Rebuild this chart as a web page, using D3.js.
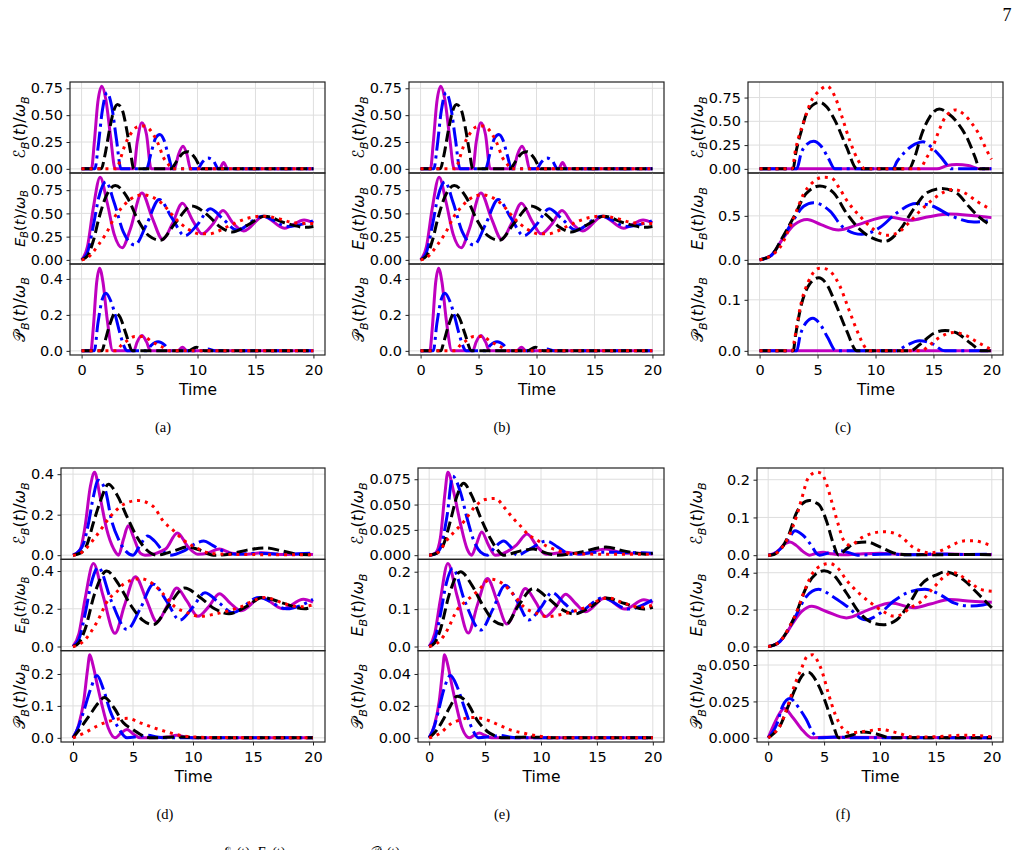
<!DOCTYPE html>
<html>
<head>
<meta charset="utf-8">
<script src="https://cdn.jsdelivr.net/npm/d3@7"></script>
<style>
  body { margin: 0; background: #fff; }
  text { font-family: 'DejaVu Sans', sans-serif; }
</style>
</head>
<body>
<script>
// ---- data: [time, value] pairs ----
// every subplot holds 4 series in the order red, black, blue, magenta
const timeTicks = [0, 5, 10, 15, 20];

// panel (a) — panel (b) shows the same curves
const ergA = [
  [[0,0],[3.0,0],[3.4,0.11],[3.7,0.21],[4.2,0.32],[4.7,0.385],[5.3,0.40],[5.8,0.375],[6.3,0.30],[6.7,0.21],[7.0,0.12],[7.5,0.04],[7.8,0],[20,0]],
  [[0,0],[1.7,0],[2.0,0.12],[2.4,0.36],[2.8,0.55],[3.1,0.60],[3.5,0.55],[3.9,0.36],[4.2,0.17],[4.5,0],[7.7,0],[8.2,0.07],[8.8,0.15],[9.2,0.16],[9.8,0.10],[10.4,0],[20,0]],
  [[0,0],[1.15,0],[1.4,0.18],[1.8,0.55],[2.2,0.71],[2.6,0.58],[3.0,0.28],[3.4,0],[5.6,0],[6.0,0.15],[6.4,0.29],[6.75,0.32],[7.1,0.27],[7.5,0.12],[7.85,0],[10.0,0],[10.4,0.06],[10.9,0.10],[11.4,0.07],[11.8,0],[20,0]],
  [[0,0],[0.85,0],[1.1,0.25],[1.4,0.62],[1.75,0.77],[2.1,0.64],[2.5,0.30],[2.9,0],[4.5,0],[4.8,0.25],[5.2,0.43],[5.6,0.32],[6.0,0],[8.0,0],[8.35,0.13],[8.75,0.21],[9.1,0.13],[9.4,0],[11.9,0],[12.25,0.06],[12.6,0],[20,0]]
];
const eneA = [
  [[0,0],[0.5,0.02],[0.9,0.07],[1.5,0.17],[2.1,0.28],[2.9,0.47],[3.6,0.58],[4.3,0.66],[5.3,0.70],[6.2,0.67],[7.0,0.60],[8.2,0.43],[9.2,0.33],[10.2,0.28],[11.0,0.28],[11.8,0.31],[12.8,0.37],[14.4,0.45],[15.6,0.47],[16.8,0.45],[18.3,0.40],[20,0.39]],
  [[0,0],[0.5,0.04],[1.0,0.2],[1.5,0.45],[2.1,0.68],[2.9,0.80],[3.9,0.68],[4.9,0.42],[5.8,0.26],[6.8,0.21],[8.1,0.40],[9.5,0.58],[10.8,0.49],[11.9,0.36],[13.0,0.30],[14.4,0.38],[15.8,0.47],[17.5,0.40],[19.3,0.35],[20,0.36]],
  [[0,0],[0.5,0.08],[1.0,0.36],[1.5,0.68],[2.1,0.84],[2.8,0.62],[3.6,0.30],[4.6,0.16],[5.6,0.38],[6.7,0.65],[7.8,0.45],[8.9,0.26],[10.0,0.38],[11.1,0.55],[12.2,0.44],[13.4,0.32],[15.6,0.47],[17.8,0.36],[20,0.42]],
  [[0,0],[0.5,0.14],[1.0,0.55],[1.6,0.89],[2.2,0.62],[2.8,0.28],[3.5,0.13],[4.2,0.33],[5.2,0.72],[6.1,0.45],[7.0,0.22],[7.8,0.38],[8.7,0.61],[9.6,0.42],[10.4,0.28],[11.3,0.38],[12.2,0.53],[13.1,0.39],[14.0,0.31],[15.7,0.47],[17.5,0.34],[19.2,0.43],[20,0.40]]
];
const powA = [
  [[0,0],[3.0,0],[3.4,0.03],[3.8,0.05],[4.6,0.08],[5.3,0.08],[6.1,0.05],[7.0,0.02],[7.6,0],[20,0]],
  [[0,0],[1.75,0],[2.0,0.05],[2.4,0.14],[2.9,0.21],[3.3,0.19],[3.8,0.10],[4.4,0],[9.2,0],[9.9,0.02],[10.6,0],[20,0]],
  [[0,0],[1.1,0],[1.4,0.15],[1.8,0.29],[2.1,0.32],[2.5,0.28],[2.9,0.2],[3.3,0.1],[3.7,0.02],[3.9,0],[5.6,0],[6.0,0.03],[6.6,0.05],[7.2,0.03],[7.6,0],[10.3,0],[10.9,0.01],[11.5,0],[20,0]],
  [[0,0],[0.8,0],[1.0,0.12],[1.3,0.38],[1.55,0.46],[1.85,0.38],[2.2,0.18],[2.7,0],[4.5,0],[4.8,0.05],[5.2,0.085],[5.6,0.05],[5.95,0],[8.3,0],[8.7,0.02],[9.1,0],[20,0]]
];

// panel (c)
const ergC = [
  [[0,0],[2.8,0],[3.1,0.2],[3.85,0.51],[4.4,0.70],[5.15,0.82],[5.8,0.87],[6.5,0.76],[7.1,0.55],[7.8,0.29],[8.5,0.09],[9.1,0],[13.8,0],[14.4,0.115],[14.9,0.22],[15.6,0.44],[16.0,0.54],[16.9,0.62],[17.7,0.565],[18.3,0.48],[18.9,0.37],[19.3,0.27],[19.7,0.17],[20,0.10]],
  [[0,0],[2.9,0],[3.1,0.15],[3.6,0.40],[4.2,0.62],[5.2,0.70],[5.8,0.65],[6.5,0.51],[7.5,0.23],[8.4,0],[12.9,0],[13.3,0.094],[14.0,0.37],[14.7,0.55],[15.5,0.63],[16.2,0.59],[17.1,0.48],[18.0,0.30],[18.6,0.12],[19.0,0],[20,0]],
  [[0,0],[3.2,0],[3.6,0.17],[4.1,0.26],[4.65,0.29],[5.3,0.24],[5.9,0.12],[6.5,0],[11.5,0],[11.85,0.076],[12.56,0.18],[13.4,0.26],[14.1,0.285],[14.9,0.22],[15.6,0.13],[16.3,0.024],[16.5,0],[20,0]],
  [[0,0],[15.3,0],[16.2,0.035],[17.0,0.045],[18.0,0.035],[19.0,0],[20,0]]
];
const eneC = [
  [[0,0],[1.0,0.05],[1.8,0.15],[2.6,0.37],[3.2,0.56],[3.8,0.75],[4.5,0.87],[5.5,0.94],[6.2,0.93],[6.9,0.81],[7.5,0.68],[8.7,0.49],[9.9,0.34],[11.0,0.28],[11.8,0.30],[12.8,0.41],[13.8,0.55],[14.8,0.67],[15.9,0.77],[16.7,0.80],[17.7,0.76],[18.8,0.66],[20,0.57]],
  [[0,0],[1.0,0.05],[2.0,0.26],[3.0,0.5],[4.0,0.75],[5.2,0.84],[6.4,0.76],[7.5,0.53],[8.7,0.34],[9.7,0.25],[10.8,0.21],[12.1,0.34],[13.3,0.58],[14.4,0.76],[15.7,0.81],[17.0,0.76],[18.1,0.60],[19.0,0.48],[20,0.39]],
  [[0,0],[1.0,0.05],[2.0,0.25],[3.0,0.47],[3.8,0.61],[4.65,0.65],[6.1,0.55],[7.2,0.37],[8.8,0.29],[10.4,0.37],[11.8,0.53],[13.5,0.64],[14.7,0.62],[16.7,0.49],[18.5,0.43],[20,0.45]],
  [[0,0],[1.0,0.05],[2.0,0.24],[3.0,0.40],[4.1,0.46],[5.3,0.40],[6.8,0.34],[8.5,0.40],[11.0,0.49],[13.0,0.45],[14.6,0.49],[16.4,0.52],[18.5,0.50],[20,0.48]]
];
const powC = [
  [[0,0],[2.8,0],[3.0,0.02],[3.2,0.047],[3.6,0.095],[4.2,0.135],[5.2,0.162],[5.8,0.16],[6.9,0.128],[7.7,0.081],[8.4,0.04],[9.2,0.004],[9.5,0],[14.0,0],[14.5,0.008],[15.5,0.026],[16.8,0.036],[17.8,0.03],[18.8,0.017],[19.9,0.004],[20,0.003]],
  [[0,0],[2.9,0],[3.1,0.03],[3.6,0.09],[4.3,0.13],[5.1,0.143],[5.8,0.13],[6.6,0.09],[7.5,0.04],[8.4,0],[13.0,0],[13.8,0.012],[15.0,0.034],[16.0,0.04],[17.0,0.035],[18.2,0.015],[19.2,0],[20,0]],
  [[0,0],[3.2,0],[3.5,0.03],[4.0,0.055],[4.6,0.064],[5.2,0.053],[5.9,0.025],[6.6,0],[11.8,0],[12.6,0.01],[13.8,0.02],[14.8,0.015],[16.0,0],[20,0]],
  [[0,0],[20,0]]
];

// panel (d)
const ergD = [
  [[0,0],[0.5,0.005],[1.0,0.028],[2.0,0.10],[3.1,0.19],[4.2,0.25],[5.4,0.27],[6.7,0.24],[7.5,0.17],[8.4,0.12],[9.3,0.07],[10.3,0.036],[11.4,0.01],[13,0.004],[15,0.003],[17,0.002],[20,0.002]],
  [[0,0],[0.6,0.01],[1.15,0.05],[1.7,0.16],[2.3,0.27],[2.95,0.35],[3.65,0.30],[4.5,0.19],[5.3,0.093],[6.1,0.028],[7.0,0],[7.8,0.01],[8.6,0.025],[9.5,0.041],[10.6,0.025],[11.7,0],[13.0,0.005],[14.5,0.025],[16.0,0.036],[17.5,0.02],[18.9,0.003],[20,0.002]],
  [[0,0],[0.5,0.02],[0.9,0.06],[1.3,0.16],[1.7,0.29],[2.1,0.37],[2.7,0.32],[3.2,0.175],[3.8,0.077],[4.4,0.02],[5.0,0],[5.6,0.05],[6.2,0.095],[6.8,0.07],[7.5,0.02],[8.1,0],[9.2,0.02],[10.3,0.06],[10.9,0.07],[11.6,0.05],[12.5,0.02],[13.5,0.005],[15.5,0.01],[17.5,0.005],[20,0.01]],
  [[0,0],[0.6,0.028],[1.0,0.14],[1.45,0.34],[1.8,0.41],[2.25,0.29],[2.8,0.13],[3.4,0.03],[3.8,0],[4.2,0.077],[4.6,0.145],[5.1,0.08],[5.6,0.01],[6.0,0],[7.7,0.03],[8.7,0.11],[9.6,0.04],[10.4,0.005],[11.2,0.01],[12.2,0.03],[13.2,0.01],[14.5,0.005],[15.7,0.012],[17.5,0.003],[19.2,0.006],[20,0.003]]
];
const eneD = [
  [[0,0],[0.5,0.01],[1.0,0.036],[2.0,0.13],[2.96,0.25],[3.65,0.29],[4.2,0.33],[5.6,0.36],[6.7,0.33],[7.5,0.28],[8.5,0.21],[9.5,0.18],[10.6,0.16],[11.7,0.17],[13.0,0.19],[14.0,0.21],[15.3,0.25],[16.0,0.26],[17.5,0.23],[18.9,0.21],[20,0.22]],
  [[0,0],[0.5,0.02],[1.0,0.09],[1.8,0.28],[2.8,0.40],[3.8,0.33],[4.8,0.22],[5.8,0.14],[6.7,0.116],[8.0,0.22],[9.3,0.31],[10.6,0.26],[11.8,0.20],[13.0,0.174],[14.4,0.21],[15.8,0.26],[17.5,0.23],[19.3,0.20],[20,0.21]],
  [[0,0],[0.5,0.04],[1.0,0.17],[1.5,0.33],[2.1,0.42],[3.2,0.24],[4.5,0.09],[5.6,0.20],[6.7,0.33],[7.8,0.24],[8.9,0.14],[10.0,0.21],[11.0,0.285],[12.2,0.23],[13.3,0.18],[15.5,0.26],[17.8,0.20],[20,0.25]],
  [[0,0],[0.5,0.07],[1.0,0.25],[1.7,0.44],[2.5,0.27],[3.5,0.07],[4.3,0.22],[5.2,0.37],[6.1,0.25],[7.0,0.13],[7.8,0.21],[8.65,0.31],[9.5,0.24],[10.4,0.16],[11.3,0.21],[12.2,0.28],[13.1,0.23],[14.0,0.19],[15.7,0.26],[17.5,0.20],[19.2,0.25],[20,0.235]]
];
const powD = [
  [[0,0],[1.0,0.016],[2.0,0.037],[3.0,0.052],[4.0,0.06],[4.6,0.061],[5.6,0.047],[6.7,0.032],[7.8,0.019],[8.9,0.008],[10.0,0.003],[11.5,0.001],[20,0]],
  [[0,0],[0.75,0.037],[1.44,0.074],[2.13,0.11],[2.6,0.126],[3.4,0.095],[4.2,0.047],[5.0,0.026],[5.9,0.005],[6.6,0],[9.0,0.003],[11,0],[20,0]],
  [[0,0],[0.4,0.03],[0.9,0.084],[1.44,0.15],[2.0,0.195],[2.55,0.15],[3.1,0.084],[3.8,0.03],[4.5,0],[5.4,0.004],[6.2,0.008],[7.0,0.003],[8.0,0],[20,0]],
  [[0,0],[0.47,0.04],[0.9,0.116],[1.2,0.21],[1.4,0.26],[1.65,0.23],[2.0,0.17],[2.4,0.105],[2.95,0.03],[3.5,0],[4.0,0.015],[4.5,0.026],[5.0,0.013],[5.6,0],[8.0,0.003],[8.6,0.008],[9.4,0.003],[10.5,0],[20,0]]
];

// panel (e)
const ergE = [
  [[0,0],[0.5,0.001],[1.04,0.0057],[1.52,0.014],[2.33,0.024],[3.16,0.034],[4.1,0.048],[5.0,0.055],[5.9,0.056],[6.8,0.046],[7.46,0.037],[8.15,0.029],[8.9,0.020],[9.64,0.015],[10.5,0.009],[11.4,0.005],[12.5,0.002],[15,0.001],[20,0.001]],
  [[0,0],[0.7,0.002],[1.3,0.011],[1.9,0.034],[2.5,0.059],[3.07,0.071],[3.8,0.059],[4.6,0.037],[5.5,0.016],[6.2,0.004],[6.65,0],[8.1,0.004],[9.3,0.006],[10.5,0.002],[11.5,0],[13.5,0.003],[15.8,0.008],[17.5,0.004],[19.5,0.001],[20,0.002]],
  [[0,0],[0.5,0.001],[1.0,0.007],[1.6,0.039],[2.1,0.078],[2.8,0.062],[3.4,0.036],[4.0,0.014],[4.6,0.003],[5.2,0],[5.9,0.008],[6.65,0.014],[7.3,0.008],[7.85,0],[9.0,0.006],[10.5,0.014],[11.5,0.008],[12.6,0.001],[15.5,0.003],[20,0.002]],
  [[0,0],[0.55,0.002],[1.0,0.017],[1.4,0.06],[1.67,0.082],[2.2,0.062],[2.8,0.031],[3.4,0.006],[3.8,0],[4.2,0.01],[4.7,0.023],[5.3,0.01],[5.9,0],[7.8,0.01],[8.75,0.021],[9.7,0.008],[10.5,0.001],[12.2,0.003],[13.5,0.001],[15.8,0.006],[17.5,0.002],[19.3,0.002],[20,0.001]]
];
const eneE = [
  [[0,0],[0.5,0.005],[1.04,0.018],[1.6,0.043],[2.5,0.098],[3.4,0.124],[4.3,0.147],[5.5,0.18],[6.7,0.165],[7.5,0.14],[8.5,0.105],[9.5,0.09],[10.6,0.08],[11.7,0.085],[13.0,0.095],[14.0,0.105],[15.3,0.125],[16.0,0.13],[17.5,0.115],[18.9,0.105],[20,0.11]],
  [[0,0],[0.5,0.01],[1.0,0.045],[1.8,0.14],[2.8,0.20],[3.8,0.165],[4.8,0.11],[5.8,0.068],[6.8,0.057],[8.0,0.11],[9.3,0.155],[10.6,0.13],[11.8,0.10],[13.0,0.087],[14.4,0.105],[15.8,0.13],[17.5,0.115],[19.2,0.10],[20,0.105]],
  [[0,0],[0.5,0.02],[1.0,0.085],[1.5,0.165],[2.1,0.209],[3.2,0.12],[4.6,0.044],[5.7,0.10],[6.8,0.164],[7.9,0.12],[8.9,0.071],[10.0,0.105],[11.0,0.144],[12.1,0.115],[13.2,0.09],[15.5,0.13],[17.8,0.10],[20,0.125]],
  [[0,0],[0.5,0.035],[1.0,0.125],[1.67,0.222],[2.5,0.135],[3.5,0.036],[4.3,0.11],[5.2,0.182],[6.1,0.12],[6.95,0.06],[7.8,0.105],[8.6,0.155],[9.5,0.12],[10.4,0.08],[11.3,0.105],[12.2,0.14],[13.1,0.115],[14.0,0.093],[15.7,0.13],[17.5,0.10],[19.2,0.125],[20,0.117]]
];
const powE = [
  [[0,0],[1.0,0.003],[1.9,0.0086],[2.9,0.0115],[3.8,0.0128],[4.9,0.0118],[6.06,0.0086],[7.25,0.005],[8.4,0.003],[9.9,0.001],[11.5,0],[20,0]],
  [[0,0],[0.7,0.005],[1.3,0.012],[1.9,0.02],[2.5,0.026],[3.4,0.022],[4.3,0.011],[5.2,0.004],[6.0,0.001],[6.6,0],[9.0,0.0006],[11,0],[20,0]],
  [[0,0],[0.4,0.006],[0.8,0.016],[1.3,0.03],[1.9,0.039],[2.5,0.032],[3.1,0.02],[3.8,0.0064],[4.4,0],[5.5,0.0008],[6.3,0.0015],[7.2,0.0005],[8,0],[20,0]],
  [[0,0],[0.47,0.008],[0.9,0.023],[1.2,0.042],[1.37,0.052],[1.65,0.046],[2.0,0.034],[2.4,0.021],[2.95,0.006],[3.6,0],[4.0,0.0015],[4.5,0.003],[5.0,0.0015],[5.6,0],[20,0]]
];

// panel (f)
const ergF = [
  [[0,0],[0.5,0.002],[1.04,0.0135],[1.8,0.047],[2.5,0.10],[3.0,0.15],[3.5,0.20],[3.9,0.215],[4.3,0.22],[4.8,0.216],[5.2,0.19],[5.7,0.14],[6.3,0.078],[6.7,0.042],[7.3,0.026],[8.4,0.047],[9.3,0.058],[10.3,0.062],[11.0,0.06],[11.8,0.051],[13.0,0.02],[14.5,0.006],[15.7,0.015],[16.6,0.029],[17.6,0.038],[18.4,0.038],[19.6,0.029],[20,0.025]],
  [[0,0],[0.5,0.002],[1.04,0.013],[1.8,0.051],[2.5,0.11],[3.0,0.135],[3.7,0.145],[4.2,0.14],[4.6,0.132],[5.2,0.092],[5.8,0.033],[6.3,0],[7.0,0.017],[7.9,0.033],[8.8,0.035],[10.0,0.022],[11.2,0.006],[12.5,0.001],[15.0,0.001],[17.0,0.002],[20,0.001]],
  [[0,0],[0.5,0.003],[1.04,0.015],[1.8,0.042],[2.4,0.065],[3.1,0.053],[3.9,0.024],[4.3,0.005],[4.6,0],[5.4,0.006],[6.4,0.012],[7.3,0.006],[8.0,0],[9.5,0.002],[11,0.003],[12.5,0.001],[15,0.003],[17,0.002],[20,0.003]],
  [[0,0],[0.5,0.004],[1.0,0.015],[1.5,0.03],[1.95,0.035],[2.5,0.026],[3.1,0.01],[3.7,0],[4.3,0.005],[4.9,0.008],[5.6,0.004],[6.5,0.001],[8.0,0.003],[10.0,0.005],[12,0.002],[14,0.002],[16,0.003],[18,0.002],[20,0.002]]
];
const eneF = [
  [[0,0],[0.5,0.007],[1.04,0.027],[1.8,0.095],[2.5,0.18],[3.3,0.31],[4.0,0.40],[4.8,0.44],[5.5,0.45],[6.3,0.42],[7.0,0.36],[8.1,0.29],[9.1,0.24],[10.3,0.19],[11.2,0.165],[11.8,0.17],[12.7,0.21],[13.6,0.24],[14.8,0.32],[16.0,0.39],[16.6,0.40],[17.8,0.36],[19.0,0.31],[20,0.30]],
  [[0,0],[0.5,0.007],[1.04,0.027],[1.8,0.095],[2.5,0.18],[3.4,0.32],[4.2,0.39],[5.0,0.41],[5.8,0.39],[7.0,0.29],[8.2,0.18],[9.4,0.127],[10.3,0.118],[11.5,0.145],[12.7,0.24],[13.6,0.33],[15.1,0.39],[15.8,0.405],[17.5,0.36],[18.7,0.29],[20,0.21]],
  [[0,0],[0.5,0.007],[1.04,0.027],[1.8,0.09],[2.5,0.17],[3.4,0.27],[4.5,0.31],[5.8,0.27],[7.0,0.22],[8.7,0.145],[10.0,0.18],[11.2,0.245],[12.4,0.29],[14.0,0.31],[15.4,0.28],[16.6,0.236],[18.0,0.22],[19.2,0.225],[20,0.235]],
  [[0,0],[0.5,0.007],[1.04,0.027],[1.6,0.07],[2.2,0.127],[3.0,0.19],[3.9,0.218],[5.2,0.19],[7.0,0.155],[9.0,0.2],[11.0,0.236],[13.0,0.21],[14.5,0.23],[16.2,0.255],[18.2,0.245],[20,0.24]]
];
const powF = [
  [[0,0],[0.5,0.003],[1.04,0.008],[1.8,0.023],[2.4,0.037],[3.0,0.048],[3.5,0.056],[4.0,0.057],[4.4,0.053],[4.8,0.046],[5.4,0.03],[6.0,0.016],[6.6,0.007],[7.3,0.0035],[8.8,0.0046],[10.0,0.0058],[11.5,0.0035],[13.0,0.0005],[15,0.0008],[17.5,0.0018],[20,0.0008]],
  [[0,0],[0.5,0.003],[1.04,0.008],[1.8,0.022],[2.5,0.035],[3.2,0.044],[3.6,0.045],[4.3,0.039],[5.1,0.025],[5.8,0.009],[6.3,0],[7.5,0.002],[8.5,0.004],[9.5,0.003],[11,0],[20,0]],
  [[0,0],[0.4,0.004],[0.75,0.009],[1.3,0.022],[1.94,0.027],[2.7,0.021],[3.4,0.0127],[4.0,0.0035],[4.5,0],[6,0.0005],[8,0],[20,0]],
  [[0,0],[0.45,0.008],[1.04,0.017],[1.43,0.0203],[2.2,0.014],[3.1,0.005],[3.9,0],[5,0.0004],[20,0]]
];

// y tick labels per subplot (ergotropy, energy, power)
const ticksA = [["0.00","0.25","0.50","0.75"], ["0.00","0.25","0.50","0.75"], ["0.0","0.2","0.4"]];
const ticksC = [["0.00","0.25","0.50","0.75"], ["0.0","0.5"], ["0.0","0.1"]];
const ticksD = [["0.0","0.2","0.4"], ["0.0","0.2","0.4"], ["0.0","0.1","0.2"]];
const ticksE = [["0.000","0.025","0.050","0.075"], ["0.0","0.1","0.2"], ["0.00","0.02","0.04"]];
const ticksF = [["0.0","0.1","0.2"], ["0.0","0.2","0.4"], ["0.000","0.025","0.050"]];

// ---- styles & layout ----
const lw = 3;
const seriesStyle = [
  {color: '#ff0000', dash: `${lw*1},${lw*1.65}`},
  {color: '#000000', dash: `${lw*3.7},${lw*1.6}`},
  {color: '#0000ff', dash: `${lw*6.4},${lw*1.6},${lw*1},${lw*1.6}`},
  {color: '#bf00bf', dash: null}
];
const drawOrder = [3, 2, 1, 0]; // magenta underneath, red on top

const panels = [
  {tag: '(a)', data: [ergA, eneA, powA], ticks: ticksA, left: 70,  right: 325,  top: 82,  bottom: 355, capX: 163, labelSizes: [16, 14.5, 16]},
  {tag: '(b)', data: [ergA, eneA, powA], ticks: ticksA, left: 409, right: 664,  top: 82,  bottom: 355, capX: 502, labelSizes: [16, 16, 16]},
  {tag: '(c)', data: [ergC, eneC, powC], ticks: ticksC, left: 748, right: 1003, top: 82,  bottom: 355, capX: 843, labelSizes: [16, 16, 16]},
  {tag: '(d)', data: [ergD, eneD, powD], ticks: ticksD, left: 61,  right: 325,  top: 468, bottom: 742, capX: 165, labelSizes: [16, 14.5, 16]},
  {tag: '(e)', data: [ergE, eneE, powE], ticks: ticksE, left: 418, right: 664,  top: 468, bottom: 742, capX: 502, labelSizes: [16, 16, 16]},
  {tag: '(f)', data: [ergF, eneF, powF], ticks: ticksF, left: 757, right: 1003, top: 468, bottom: 742, capX: 843, labelSizes: [16, 16, 16]}
];
const labelSymbols = ['ℰ', 'E', '𝒫'];

const tickFont = 14.5;
const gridColor = '#dedede';
const spineColor = '#222';

const svg = d3.select('body').append('svg')
  .attr('width', 1019)
  .attr('height', 850);

// page number
svg.append('text')
  .attr('x', 1007).attr('y', 21)
  .attr('text-anchor', 'middle')
  .style('font-family', "'Liberation Serif', serif")
  .attr('font-size', 18)
  .text('7');

function yLabel(g, cx, cy, sym, size) {
  const t = g.append('text')
    .attr('transform', `translate(${cx},${cy}) rotate(-90)`)
    .attr('text-anchor', 'middle')
    .attr('font-size', size);
  t.append('tspan').text(sym).attr('font-style', sym === 'E' ? 'italic' : 'normal');
  t.append('tspan').text('B').attr('font-style', 'italic').attr('font-size', size * 0.7).attr('dy', size * 0.25);
  t.append('tspan').text('(').attr('dy', -size * 0.25);
  t.append('tspan').text('t').attr('font-style', 'italic');
  t.append('tspan').text(')/');
  t.append('tspan').text('ω').attr('font-style', 'italic');
  t.append('tspan').text('B').attr('font-style', 'italic').attr('font-size', size * 0.7).attr('dy', size * 0.25);
}

panels.forEach((p, pi) => {
  const g = svg.append('g');
  const x = d3.scaleLinear().domain([-1, 21]).range([p.left, p.right]);
  const h = (p.bottom - p.top) / 3;
  let minLabelX = Infinity;

  p.data.forEach((subset, si) => {
    const y0 = p.top + si * h, y1 = y0 + h;
    const vals = subset.flat().map(d => d[1]);
    const lo = d3.min(vals), hi = d3.max(vals), pad = (hi - lo) * 0.05;
    const y = d3.scaleLinear().domain([lo - pad, hi + pad]).range([y1, y0]);
    const tickVals = p.ticks[si].map(Number);

    const sub = g.append('g');
    const clipId = `clip-${pi}-${si}`;
    sub.append('clipPath').attr('id', clipId)
      .append('rect').attr('x', p.left).attr('y', y0).attr('width', p.right - p.left).attr('height', h);

    // grid
    sub.append('g').selectAll('line.vx').data(timeTicks).join('line')
      .attr('x1', d => x(d)).attr('x2', d => x(d))
      .attr('y1', y0).attr('y2', y1)
      .attr('stroke', gridColor).attr('stroke-width', 1);
    sub.append('g').selectAll('line.hy').data(tickVals).join('line')
      .attr('x1', p.left).attr('x2', p.right)
      .attr('y1', d => y(d)).attr('y2', d => y(d))
      .attr('stroke', gridColor).attr('stroke-width', 1);

    // curves
    const line = d3.line()
      .x(d => x(d[0]))
      .y(d => y(d[1]))
      .curve(d3.curveMonotoneX);
    const lines = sub.append('g').attr('clip-path', `url(#${clipId})`);
    drawOrder.forEach(k => {
      lines.append('path')
        .attr('d', line(subset[k]))
        .attr('fill', 'none')
        .attr('stroke', seriesStyle[k].color)
        .attr('stroke-width', lw)
        .attr('stroke-dasharray', seriesStyle[k].dash)
        .attr('stroke-linejoin', 'round');
    });

    // frame
    sub.append('rect')
      .attr('x', p.left).attr('y', y0)
      .attr('width', p.right - p.left).attr('height', h)
      .attr('fill', 'none').attr('stroke', spineColor).attr('stroke-width', 1.2);

    // y axis
    const ya = sub.append('g').attr('transform', `translate(${p.left},0)`)
      .call(d3.axisLeft(y).tickValues(tickVals).tickFormat((d, i) => p.ticks[si][i])
        .tickSize(3.5).tickPadding(3.5));
    ya.select('.domain').remove();
    ya.selectAll('line').attr('stroke', spineColor);
    ya.selectAll('text').attr('font-size', tickFont).attr('fill', '#000')
      .style('font-family', "'DejaVu Sans', sans-serif");
    ya.selectAll('text').each(function() {
      const b = this.getBBox();
      const m = this.getCTM();
      minLabelX = Math.min(minLabelX, b.x + m.e);
    });

    // x axis on the lowest subplot only
    if (si === 2) {
      const xa = sub.append('g').attr('transform', `translate(0,${y1})`)
        .call(d3.axisBottom(x).tickValues(timeTicks).tickSize(3.5).tickPadding(6));
      xa.select('.domain').remove();
      xa.selectAll('line').attr('stroke', spineColor);
      xa.selectAll('text').attr('font-size', tickFont).attr('fill', '#000')
        .style('font-family', "'DejaVu Sans', sans-serif");
    }
  });

  // y labels, aligned per panel
  p.data.forEach((subset, si) => {
    const cy = p.top + si * h + h / 2;
    yLabel(g, minLabelX - 6, cy, labelSymbols[si], p.labelSizes[si]);
  });

  // x label
  g.append('text')
    .attr('x', (p.left + p.right) / 2 + 0.5)
    .attr('y', p.bottom + 40)
    .attr('text-anchor', 'middle')
    .attr('font-size', 15.5)
    .text('Time');

  // caption
  g.append('text')
    .attr('x', p.capX)
    .attr('y', p.bottom + 77)
    .attr('text-anchor', 'middle')
    .style('font-family', "'Liberation Serif', serif")
    .attr('font-size', 14.5)
    .text(p.tag);
});

// caption line that the page edge cuts off
const cap = svg.append('text')
  .attr('x', 222).attr('y', 857)
  .style('font-family', "'Liberation Serif', serif")
  .attr('font-size', 14);
cap.append('tspan').text('ℰ');
cap.append('tspan').text('B').attr('font-size', 10).attr('dy', 3);
cap.append('tspan').text('(t),  ').attr('dy', -3);
cap.append('tspan').text('E').attr('font-style', 'italic');
cap.append('tspan').text('B').attr('font-size', 10).attr('dy', 3);
cap.append('tspan').text('(t)').attr('dy', -3);
cap.append('tspan').text('𝒫').attr('x', 370);
cap.append('tspan').text('B').attr('font-size', 10).attr('dy', 3);
cap.append('tspan').text('(t)').attr('dy', -3);
</script>
</body>
</html>
